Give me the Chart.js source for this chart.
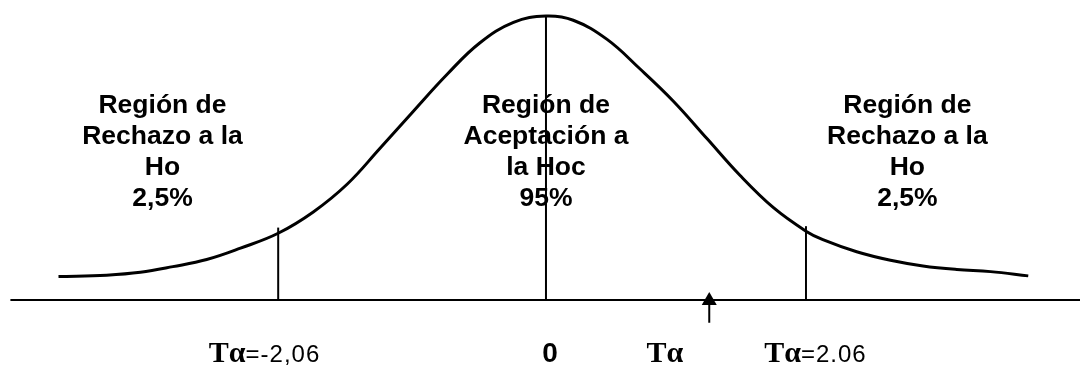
<!DOCTYPE html>
<html>
<head>
<meta charset="utf-8">
<script src="https://cdn.jsdelivr.net/npm/chart.js@4.4.1/dist/chart.umd.min.js"></script>
<style>
  body { margin: 0; background: #fff; }
  #wrap { width: 1080px; height: 365px; }
</style>
</head>
<body>
<div id="wrap"><canvas id="curveChart"></canvas></div>
<script>
// ------------------------
// DATA (x in t units, y as density)
// ------------------------
const curveX = [-3.75, -3.38, -3.12, -2.87, -2.61, -2.35, -2.06, -1.79, -1.53, -1.28, -1.02, -0.76, -0.51, -0.25, 0,
                0.21, 0.47, 0.72, 0.98, 1.24, 1.49, 1.75, 2.00, 2.13, 2.39, 2.65, 2.90, 3.16, 3.42, 3.71];
const curveY = [0.033, 0.035, 0.039, 0.047, 0.057, 0.073, 0.094, 0.124, 0.163, 0.213, 0.266, 0.318, 0.362, 0.391, 0.400,
                0.394, 0.367, 0.326, 0.280, 0.227, 0.176, 0.130, 0.097, 0.085, 0.068, 0.056, 0.048, 0.043, 0.040, 0.034];

const critX = [-2.06, 2.00];      // vertical lines at the critical values
const critTop = [0.102, 0.104];
const centreTop = 0.40;
const axisFrom = -4.12;
const axisTo = 4.11;

const arrowX = 1.256;
const arrowShaft = [-0.032, 0.0];

const regionX = [-2.95, 0, 2.78];
const regionY = 0.264;
const regionLines = [
    ['Región de', 'Rechazo a la', 'Ho', '2,5%'],
    ['Región de', 'Aceptación a', 'la Hoc', '95%'],
    ['Región de', 'Rechazo a la', 'Ho', '2,5%']
];

const bottomY = -0.087;
const bottomLabels = [
    { x: -2.165, sym: 'Tα', rest: '=-2,06' },
    { x: 0.031, sym: '', rest: '0', bold: true },
    { x: 0.915, sym: 'Tα', rest: '' },
    { x: 2.073, sym: 'Tα', rest: '=2.06' }
];

// ------------------------
// DATASETS
// ------------------------
const pts = (xs, ys) => xs.map((x, i) => ({ x: x, y: ys[i] }));

const lineSet = (data, width, extra) => Object.assign({
    data: data,
    showLine: true,
    borderColor: '#000',
    borderWidth: width,
    pointRadius: 0,
    fill: false
}, extra || {});

const datasets = [
    lineSet([{ x: axisFrom, y: 0 }, { x: axisTo, y: 0 }], 2),
    lineSet(pts(curveX, curveY), 3, { tension: 0.4 }),
    lineSet([{ x: 0, y: 0 }, { x: 0, y: centreTop }], 2),
    lineSet([{ x: arrowX, y: arrowShaft[0] }, { x: arrowX, y: arrowShaft[1] }], 2)
];
critX.forEach((cx, i) => {
    datasets.push(lineSet([{ x: cx, y: 0 }, { x: cx, y: critTop[i] }], 2));
});
// arrow head
datasets.push({
    data: [{ x: arrowX, y: -0.001 }],
    showLine: false,
    pointStyle: 'triangle',
    pointRadius: 8.7,
    backgroundColor: '#000',
    borderColor: '#000',
    borderWidth: 0
});

// ------------------------
// TEXT PLUGIN
// ------------------------
const textPlugin = {
    id: 'regionText',
    afterDatasetsDraw(chart) {
        const ctx = chart.ctx;
        const xs = chart.scales.x;
        const ys = chart.scales.y;
        ctx.save();
        ctx.fillStyle = '#000';
        ctx.textBaseline = 'alphabetic';

        // region blocks
        ctx.font = 'bold 26.5px "Liberation Sans", Arial, sans-serif';
        ctx.textAlign = 'center';
        regionLines.forEach((lines, i) => {
            const px = xs.getPixelForValue(regionX[i]);
            const py = ys.getPixelForValue(regionY);
            lines.forEach((t, j) => ctx.fillText(t, px, py + j * 31));
        });

        // bottom labels
        ctx.textAlign = 'left';
        const symFont = 'bold 30px "Liberation Serif", "Times New Roman", serif';
        bottomLabels.forEach(lb => {
            const restFont = lb.bold ? 'bold 28px "Liberation Sans", Arial, sans-serif'
                                     : '24px "Liberation Sans", Arial, sans-serif';
            const spacing = lb.bold ? '0px' : '1px';
            ctx.font = symFont;
            ctx.letterSpacing = '0px';
            const w1 = lb.sym ? ctx.measureText(lb.sym).width : 0;
            ctx.font = restFont;
            ctx.letterSpacing = spacing;
            const w2 = lb.rest ? ctx.measureText(lb.rest).width : 0;
            let px = xs.getPixelForValue(lb.x) - (w1 + w2) / 2;
            const py = ys.getPixelForValue(bottomY);
            if (lb.sym) {
                ctx.font = symFont;
                ctx.letterSpacing = '0px';
                ctx.fillText(lb.sym, px, py);
                px += w1;
            }
            if (lb.rest) {
                ctx.font = restFont;
                ctx.letterSpacing = spacing;
                ctx.fillText(lb.rest, px, py);
            }
        });
        ctx.restore();
    }
};

new Chart(document.getElementById('curveChart').getContext('2d'), {
    type: 'scatter',
    data: { datasets: datasets },
    options: {
        responsive: true,
        maintainAspectRatio: false,
        animation: false,
        layout: { padding: 0, autoPadding: false },
        plugins: { legend: { display: false }, tooltip: { enabled: false } },
        scales: {
            x: { type: 'linear', display: false, min: -4.2, max: 4.108 },
            y: { type: 'linear', display: false, min: -0.0915, max: 0.4225 }
        }
    },
    plugins: [textPlugin]
});
</script>
</body>
</html>
